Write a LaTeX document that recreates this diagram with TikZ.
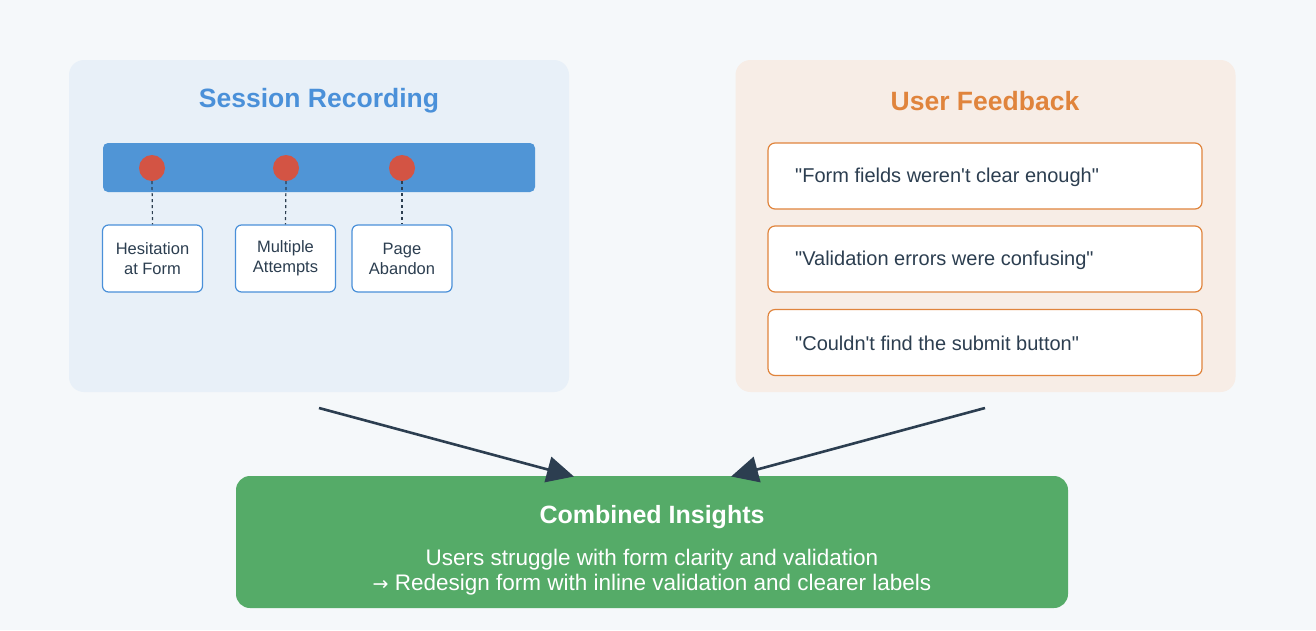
\documentclass[tikz,border=0pt]{standalone}
\usepackage{fontspec}
\newfontfamily\mf{Liberation Sans}
\newfontfamily\af{DejaVu Sans}
\usetikzlibrary{arrows.meta}
\definecolor{bgc}{HTML}{F5F8FA}
\definecolor{leftbg}{HTML}{E8F0F8}
\definecolor{rightbg}{HTML}{F7EDE6}
\definecolor{blu}{HTML}{4A90D9}
\definecolor{barc}{HTML}{5095D6}
\definecolor{redc}{HTML}{D35444}
\definecolor{orng}{HTML}{E0843C}
\definecolor{txt}{HTML}{2C3E50}
\definecolor{grn}{HTML}{55AB68}
\tikzset{
  panel/.style={rounded corners=15pt, draw=none, minimum width=500pt, minimum height=332pt},
  evbox/.style={draw=blu, line width=1.2pt, fill=white, rounded corners=6pt, minimum width=100pt, minimum height=67pt, align=center, font=\mf\fontsize{16.5}{20}\selectfont, text=txt},
  qbox/.style={draw=orng, line width=1.2pt, fill=white, rounded corners=7pt, minimum width=434pt, minimum height=66pt, text=txt},
  qtext/.style={anchor=west, font=\mf\fontsize{20}{22}\selectfont, text=txt, inner sep=0pt},
  dot/.style={circle, fill=redc, minimum size=26pt, inner sep=0pt},
  ttl/.style={font=\mf\bfseries\fontsize{26.5}{30}\selectfont},
  conn/.style={line width=2.6pt, draw=txt, -{Triangle[length=27pt,width=26pt]}, shorten >=-2pt},
  dsh/.style={dash pattern=on 3pt off 3pt, line width=1.2pt, draw=txt}
}
\begin{document}
\begin{tikzpicture}[x=1pt,y=-1pt]
\path[fill=bgc] (0,0) rectangle (1316,630);
\useasboundingbox (0,0) rectangle (1316,630);
% left panel
\node[panel, fill=leftbg] (lp) at (319,226) {};
\node[ttl, text=blu] (lt) at (319,101) {Session Recording};
\node[fill=barc, rounded corners=5pt, minimum width=432pt, minimum height=49pt] (bar) at (319,167.5) {};
\node[evbox] (e1) at (152.5,258.5) {Hesitation\\at Form};
\node[evbox] (e2) at (285.5,258.5) {Multiple\\Attempts};
\node[evbox] (e3) at (402,258.5) {Page\\Abandon};
\node[dot] (d1) at (152,168) {};
\node[dot] (d2) at (286,168) {};
\node[dot] (d3) at (402,168) {};
\draw[dsh] (d1.south) -- (e1.north);
\draw[dsh] (d2.south) -- (e2.north);
\draw[dsh] (d3.south) -- (e3.north);
% right panel
\node[panel, fill=rightbg] (rp) at (985.5,226) {};
\node[ttl, text=orng] (rt) at (985,101) {User Feedback};
\node[qbox] (q1) at (985,176) {};
\node[qbox] (q2) at (985,259) {};
\node[qbox] (q3) at (985,342.5) {};
\node[qtext] (qt1) at (795,177) {"Form fields weren't clear enough"};
\node[qtext] (qt2) at (795,260) {"Validation errors were confusing"};
\node[qtext] (qt3) at (795,343.5) {"Couldn't find the submit button"};
% combined
\node[fill=grn, rounded corners=14pt, minimum width=832pt, minimum height=132pt] (gb) at (652,542) {};
\node[text=white, font=\mf\bfseries\fontsize{25}{28}\selectfont] (gt) at (652,517) {Combined Insights};
\node[text=white, align=center, font=\mf\fontsize{22.5}{25}\selectfont] (gx) at (652,572) {Users struggle with form clarity and validation\\{\af\fontsize{19}{25}\selectfont →} Redesign form with inline validation and clearer labels};
% arrows
\coordinate (s1) at (319,408);
\coordinate (t1) at (572,476);
\coordinate (s2) at (985,408);
\coordinate (t2) at (733,476);
\draw[conn] (s1) -- (t1);
\draw[conn] (s2) -- (t2);
\end{tikzpicture}
\end{document}
